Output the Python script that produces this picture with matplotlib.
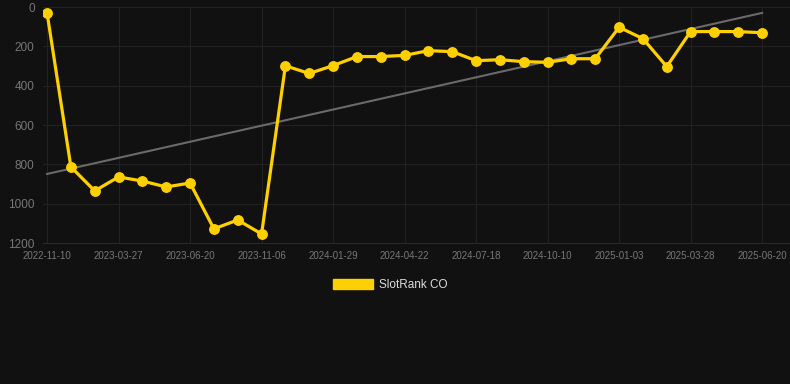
import matplotlib
matplotlib.use("Agg")
import matplotlib.pyplot as plt
import numpy as np
from matplotlib.patches import Patch

plt.rcParams['font.family'] = ['Liberation Sans', 'DejaVu Sans']

dates = ["2022-11-10", "", "", "2023-03-27", "", "", "2023-06-20", "", "", "2023-11-06",
         "", "", "2024-01-29", "", "", "2024-04-22", "", "", "2024-07-18", "", "",
         "2024-10-10", "", "", "2025-01-03", "", "", "2025-03-28", "", "", "2025-06-20"]
ranks = [30, 813, 935, 864, 885, 915, 895, 1128, 1083, 1154,
         299, 338, 298, 252, 252, 246, 222, 227, 273, 268, 278, 281,
         263, 263, 103, 161, 303, 125, 125, 125, 131]
trend_start_end = [849, 30]
series_label = "SlotRank CO"
yticks = [0, 200, 400, 600, 800, 1000, 1200]

bg = "#111111"
fig = plt.figure(figsize=(7.9, 3.84), dpi=100, facecolor=bg)
ax = fig.add_axes([43/790, 1-243/384, 747/790, 236/384], facecolor=bg)

x = np.arange(len(ranks))
ax.plot([x[0], x[-1]], trend_start_end, color="#6a6a6a", lw=1.5, zorder=2)
ax.plot(x, ranks, color="#FFD000", lw=2.3, marker="o", ms=6.8, zorder=3, label=series_label)

ax.set_ylim(1200, 0)
ax.set_xlim(-0.17, 31.17)
ax.set_yticks(yticks)
tick_idx = [i for i, d in enumerate(dates) if d]
ax.set_xticks(tick_idx)
ax.set_xticklabels([dates[i] for i in tick_idx])
ax.grid(True, color="#222222", lw=0.8)
ax.set_axisbelow(True)
for s in ax.spines.values():
    s.set_visible(False)
ax.spines["bottom"].set_visible(True)
ax.spines["bottom"].set_color("#2a2a2a")
ax.tick_params(axis="y", length=0, labelsize=8.5, colors="#777777", pad=6)
ax.tick_params(axis="x", length=0, labelsize=7, colors="#777777", pad=6)

fig.legend(handles=[Patch(facecolor="#FFD000", edgecolor="#FFD000", label=series_label)],
           loc="center", bbox_to_anchor=(390/790, 1-285/384), frameon=False,
           fontsize=8.5, handlelength=3.4, handleheight=0.9, handletextpad=0.5,
           labelcolor="#dddddd")
fig.savefig("out.png", dpi=100, facecolor=bg)
